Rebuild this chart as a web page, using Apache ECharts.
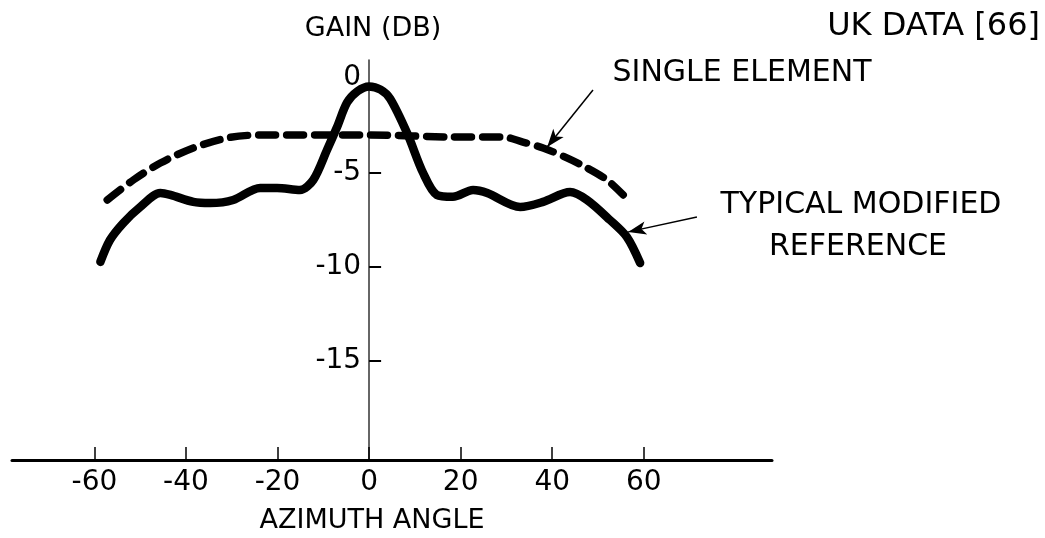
<!DOCTYPE html>
<html>
<head>
<meta charset="utf-8">
<script src="https://cdn.jsdelivr.net/npm/echarts@6/dist/echarts.min.js"></script>
<style>
html,body{margin:0;padding:0;background:#fff;}
#c{width:1045px;height:538px;}
</style>
</head>
<body>
<div id="c"></div>
<script>
// Azimuth angle (deg) and gain (dB)
const modifiedX = [-58.7,-56.6,-53.7,-50.0,-45.6,-43.4,-38.4,-34.7,-29.7,-23.8,-20.1,-15.1,-12.2,-9.2,-7.0,-4.8,-2.5,0,2.5,4.6,8.3,11.8,14.8,18.3,22.7,25.8,33.0,38.0,43.9,47.6,52.6,56.3,59.2];
const modifiedY = [-9.75,-8.59,-7.69,-6.84,-6.10,-6.20,-6.57,-6.63,-6.47,-5.83,-5.83,-5.94,-5.41,-3.82,-2.60,-1.30,-0.70,-0.45,-0.62,-1.10,-2.92,-5.04,-6.20,-6.30,-5.94,-6.10,-6.84,-6.57,-6.05,-6.47,-7.53,-8.43,-9.81];
const singleX = [-57.2,-51.5,-45.6,-38.4,-31.0,-23.8,-16.6,-9.2,0.2,18.3,29.3,33.6,38.0,43.2,47.6,52.0,55.5];
const singleY = [-6.47,-5.41,-4.51,-3.71,-3.18,-3.02,-3.02,-3.02,-3.02,-3.13,-3.13,-3.40,-3.71,-4.24,-4.77,-5.41,-6.20];
const xTickValues = [-60,-40,-20,0,20,40,60];
const yLabelValues = [0,-5,-10,-15];
const yTickValues = [-5,-10,-15];
// annotation arrows: [fromX, fromY, toX, toY] in data units
const arrowSingle = [48.9,-0.64,38.9,-3.66];
const arrowModified = [71.6,-7.37,56.6,-8.16];

const X_MIN = -78, X_MAX = 88;
const GRID_LEFT = 12, GRID_RIGHT = 273;
const FONT = '"DejaVu Sans", "Liberation Sans", Arial, sans-serif';
const zip = (xs, ys) => xs.map((x, i) => [x, ys[i]]);
const arrowLine = a => [{coord:[a[0],a[1]]},{coord:[a[2],a[3]]}];

const chart = echarts.init(document.getElementById('c'), null, {renderer:'canvas'});
// place the vertical axis at azimuth 0 (labels included)
const plotW = 1045 - GRID_LEFT - GRID_RIGHT;
const zeroOffset = -(0 - X_MIN) / (X_MAX - X_MIN) * plotW;

function txt(text, x, y, size, align) {
  return {type:'text', x:x, y:y, silent:true,
    style:{text:text, font:'normal ' + size + 'px ' + FONT, fill:'#000',
      align:align||'center', verticalAlign:'middle', textAlign:align||'center', textVerticalAlign:'middle'}};
}
chart.setOption({
  animation:false,
  backgroundColor:'#fff',
  grid:{left:GRID_LEFT, right:GRID_RIGHT, top:60, bottom:78, containLabel:false, outerBoundsMode:'none'},
  xAxis:{
    type:'value', min:X_MIN, max:X_MAX,
    axisLine:{show:true, onZero:false, lineStyle:{color:'#000', width:3}},
    axisTick:{show:true, inside:true, length:13, customValues:xTickValues, lineStyle:{color:'#000', width:1.5}},
    axisLabel:{show:true, customValues:xTickValues, margin:9, fontSize:28, color:'#000', fontFamily:FONT},
    splitLine:{show:false}
  },
  yAxis:{
    type:'value', min:-20.25, max:0.95, position:'left', offset:zeroOffset,
    axisLine:{show:true, onZero:false, lineStyle:{color:'#333', width:1.5}},
    axisTick:{show:true, inside:true, length:12, customValues:yTickValues, lineStyle:{color:'#000', width:2}},
    axisLabel:{show:true, customValues:yLabelValues, margin:8, fontSize:28, color:'#000', fontFamily:FONT},
    splitLine:{show:false}
  },
  graphic:[
    txt('GAIN (DB)', 373, 29, 27),
    txt('UK DATA [66]', 1040, 27, 32, 'right'),
    txt('SINGLE ELEMENT', 742, 73, 30),
    txt('TYPICAL MODIFIED', 861, 205, 30),
    txt('REFERENCE', 858, 247, 30),
    txt('AZIMUTH ANGLE', 372, 521, 27)
  ],
  series:[
    {
      name:'Typical modified reference', type:'line', data:zip(modifiedX, modifiedY),
      smooth:0.3, showSymbol:false, symbol:'none',
      lineStyle:{color:'#000', width:8.5, cap:'round', join:'round'},
      markLine:{silent:true, symbol:['none','arrow'], symbolSize:[10,18], label:{show:false},
        lineStyle:{color:'#000', width:1.5, type:'solid'}, data:[arrowLine(arrowModified)]}
    },
    {
      name:'Single element', type:'line', data:zip(singleX, singleY),
      smooth:0.3, showSymbol:false, symbol:'none',
      lineStyle:{color:'#000', width:7.5, type:[17,11], cap:'round', join:'round'},
      markLine:{silent:true, symbol:['none','arrow'], symbolSize:[10,18], label:{show:false},
        lineStyle:{color:'#000', width:1.5, type:'solid'}, data:[arrowLine(arrowSingle)]}
    }
  ]
});
</script>
</body>
</html>
